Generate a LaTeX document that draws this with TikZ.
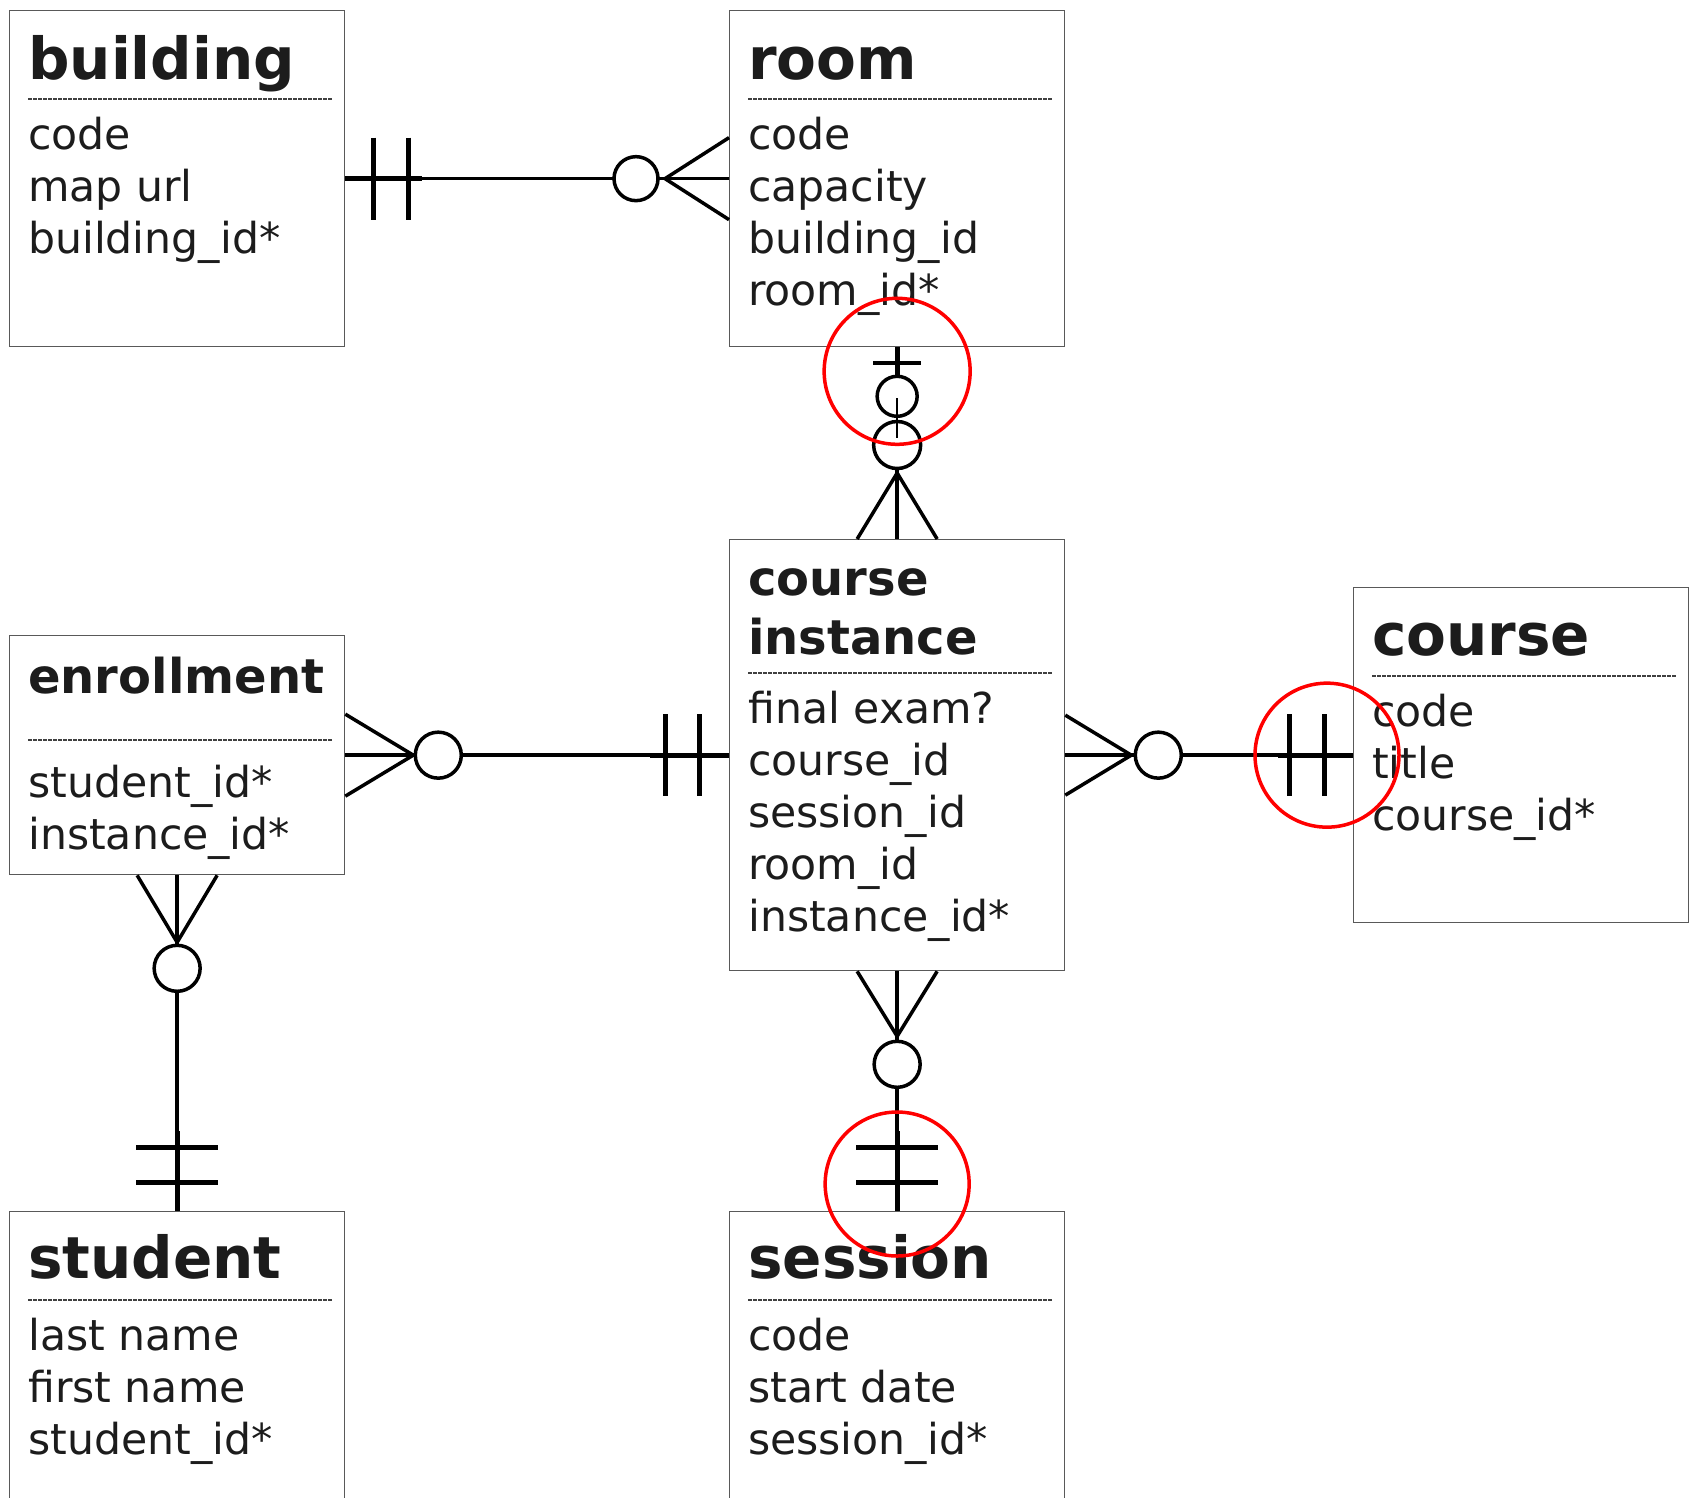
\documentclass[tikz,border=0pt]{standalone}
\usepackage{fontspec}
\setmainfont{DejaVu Sans}
\usetikzlibrary{calc}
\definecolor{txt}{HTML}{1C1C1C}
\tikzset{
  entity/.style={draw=black!65, line width=1.3pt, rectangle, anchor=north west,
    minimum width=335pt, inner sep=0pt, fill=white},
  bigtitle/.style={font=\fontsize{58}{59}\selectfont\bfseries, anchor=base west, inner sep=0pt, text=txt},
  smalltitle/.style={font=\fontsize{48}{59}\selectfont\bfseries, anchor=base west, inner sep=0pt, text=txt},
  attr/.style={font=\fontsize{42.6}{52}\selectfont, anchor=base west, inner sep=0pt, text=txt},
  sepline/.style={line width=1.1pt, black!75, dash pattern=on 3.5pt off 1.5pt},
  conn/.style={line width=3.5pt, black},
  thinconn/.style={line width=1.5pt, black},
  barln/.style={line width=5pt, black},
  stub/.style={line width=5pt, black},
  ring/.style={line width=3.5pt, draw=black, fill=white},
  redring/.style={draw=red, line width=3.5pt},
}
\begin{document}
\begin{tikzpicture}[x=1pt,y=-1pt]
\useasboundingbox (0,0) rectangle (1696,1497);
\clip (0,0) rectangle (1696,1497);
\fill[white] (0,0) rectangle (1696,1497);

% ---------- entity boxes ----------
\node[entity, minimum height=336pt] (building)   at (9,10) {};
\node[entity, minimum height=336pt] (room)       at (729,10) {};
\node[entity, minimum height=431pt] (instance)   at (729,539) {};
\node[entity, minimum height=239pt] (enrollment) at (9,635) {};
\node[entity, minimum height=335pt] (course)     at (1353,587) {};
\node[entity, minimum height=336pt] (student)    at (9,1211) {};
\node[entity, minimum height=336pt] (session)    at (729,1211) {};

% ---------- building ----------
\node[bigtitle] (building-t) at ($(building.north west)+(19,69)$) {building};
\draw[sepline] ($(building.north west)+(19,89)$) -- ($(building.north west)+(324,89)$);
\foreach \t [count=\i] in {code,map url,building\_id*}
  \node[attr] (building-a\i) at ($(building.north west)+(19,87+52*\i)$) {\t};

% ---------- room ----------
\node[bigtitle] (room-t) at ($(room.north west)+(19,69)$) {room};
\draw[sepline] ($(room.north west)+(19,89)$) -- ($(room.north west)+(324,89)$);
\foreach \t [count=\i] in {code,capacity,building\_id,room\_id*}
  \node[attr] (room-a\i) at ($(room.north west)+(19,87+52*\i)$) {\t};

% ---------- course instance ----------
\node[smalltitle] (instance-t1) at ($(instance.north west)+(19,56)$) {course};
\node[smalltitle] (instance-t2) at ($(instance.north west)+(19,115)$) {instance};
\draw[sepline] ($(instance.north west)+(19,134)$) -- ($(instance.north west)+(324,134)$);
\foreach \t [count=\i] in {final exam?,course\_id,session\_id,room\_id,instance\_id*}
  \node[attr] (instance-a\i) at ($(instance.north west)+(19,132+52*\i)$) {\t};

% ---------- enrollment ----------
\node[smalltitle] (enrollment-t) at ($(enrollment.north west)+(19,58)$) {enrollment};
\draw[sepline] ($(enrollment.north west)+(19,105)$) -- ($(enrollment.north west)+(324,105)$);
\foreach \t [count=\i] in {student\_id*,instance\_id*}
  \node[attr] (enrollment-a\i) at ($(enrollment.north west)+(19,110+52*\i)$) {\t};

% ---------- course ----------
\node[bigtitle] (course-t) at ($(course.north west)+(19,68)$) {course};
\draw[sepline] ($(course.north west)+(19,89)$) -- ($(course.north west)+(324,89)$);
\foreach \t [count=\i] in {code,title,course\_id*}
  \node[attr] (course-a\i) at ($(course.north west)+(19,87+52*\i)$) {\t};

% ---------- student ----------
\node[bigtitle] (student-t) at ($(student.north west)+(19,67)$) {student};
\draw[sepline] ($(student.north west)+(19,89)$) -- ($(student.north west)+(324,89)$);
\foreach \t [count=\i] in {last name,first name,student\_id*}
  \node[attr] (student-a\i) at ($(student.north west)+(19,87+52*\i)$) {\t};

% ---------- session ----------
\node[bigtitle] (session-t) at ($(session.north west)+(19,67)$) {session};
\draw[sepline] ($(session.north west)+(19,89)$) -- ($(session.north west)+(324,89)$);
\foreach \t [count=\i] in {code,start date,session\_id*}
  \node[attr] (session-a\i) at ($(session.north west)+(19,87+52*\i)$) {\t};

% ---------- building -- room ----------
\draw[conn] (building.east) -- (room.west);
\draw[stub] (building.east) -- ($(building.east)+(77,0)$);
\draw[barln] ($(building.east)+(28,-41)$) -- ++(0,82);
\draw[barln] ($(building.east)+(63,-41)$) -- ++(0,82);
\draw[ring] ($(room.west)+(-93,0)$) circle[radius=22pt];
\draw[conn] ($(room.west)+(0,-41)$) -- ($(room.west)+(-64,0)$) -- ($(room.west)+(0,41)$);
\draw[conn] ($(room.west)+(-64,0)$) -- (room.west);

% ---------- enrollment -- course instance ----------
\draw[conn] (enrollment.east) -- (instance.west);
\draw[stub] ($(instance.west)+(-79,0)$) -- (instance.west);
\draw[barln] ($(instance.west)+(-64,-41)$) -- ++(0,82);
\draw[barln] ($(instance.west)+(-30,-41)$) -- ++(0,82);
\draw[ring] ($(enrollment.east)+(93,0)$) circle[radius=23pt];
\draw[conn] ($(enrollment.east)+(0,-41)$) -- ($(enrollment.east)+(68,0)$) -- ($(enrollment.east)+(0,41)$);
\draw[conn] (enrollment.east) -- ($(enrollment.east)+(68,0)$);

% ---------- course instance -- course ----------
\draw[conn] (instance.east) -- (course.west);
\draw[stub] ($(course.west)+(-75,0)$) -- (course.west);
\draw[barln] ($(course.west)+(-64,-41)$) -- ++(0,82);
\draw[barln] ($(course.west)+(-29,-41)$) -- ++(0,82);
\draw[ring] ($(instance.east)+(93,0)$) circle[radius=23pt];
\draw[conn] ($(instance.east)+(0,-40)$) -- ($(instance.east)+(66,0)$) -- ($(instance.east)+(0,40)$);
\draw[conn] (instance.east) -- ($(instance.east)+(66,0)$);

% ---------- enrollment -- student ----------
\draw[conn] (enrollment.south) -- (student.north);
\draw[stub] ($(student.north)+(0,-80)$) -- (student.north);
\draw[barln] ($(student.north)+(-41,-64)$) -- ++(82,0);
\draw[barln] ($(student.north)+(-41,-29)$) -- ++(82,0);
\draw[ring] ($(enrollment.south)+(0,93)$) circle[radius=23pt];
\draw[conn] ($(enrollment.south)+(-40,0)$) -- ($(enrollment.south)+(0,67)$) -- ($(enrollment.south)+(40,0)$);
\draw[conn] (enrollment.south) -- ($(enrollment.south)+(0,67)$);

% ---------- course instance -- session ----------
\draw[conn] (instance.south) -- (session.north);
\draw[stub] ($(session.north)+(0,-80)$) -- (session.north);
\draw[barln] ($(session.north)+(-41,-64)$) -- ++(82,0);
\draw[barln] ($(session.north)+(-41,-29)$) -- ++(82,0);
\draw[ring] ($(instance.south)+(0,93)$) circle[radius=23pt];
\draw[conn] ($(instance.south)+(-40,0)$) -- ($(instance.south)+(0,65)$) -- ($(instance.south)+(40,0)$);
\draw[conn] (instance.south) -- ($(instance.south)+(0,65)$);

% ---------- room -- course instance ----------
\draw[stub] (room.south) -- ($(room.south)+(0,29)$);
\draw[line width=4pt] ($(room.south)+(-24,16)$) -- ++(48,0);
\draw[ring] ($(room.south)+(0,49)$) circle[radius=20pt];
\draw[ring] ($(instance.north)+(0,-94)$) circle[radius=23.5pt];
\draw[thinconn] ($(room.south)+(0,51)$) -- ($(room.south)+(0,91)$);
\draw[conn] ($(instance.north)+(0,-71)$) -- (instance.north);
\draw[conn] ($(instance.north)+(-40,0)$) -- ($(instance.north)+(0,-66)$) -- ($(instance.north)+(40,0)$);

% ---------- red highlight circles ----------
\draw[redring] ($(room.south)+(0,24)$) circle[radius=73pt];
\draw[redring] ($(course.west)+(-26,0)$) circle[radius=72pt];
\draw[redring] ($(session.north)+(0,-27)$) circle[radius=72pt];
\end{tikzpicture}
\end{document}
